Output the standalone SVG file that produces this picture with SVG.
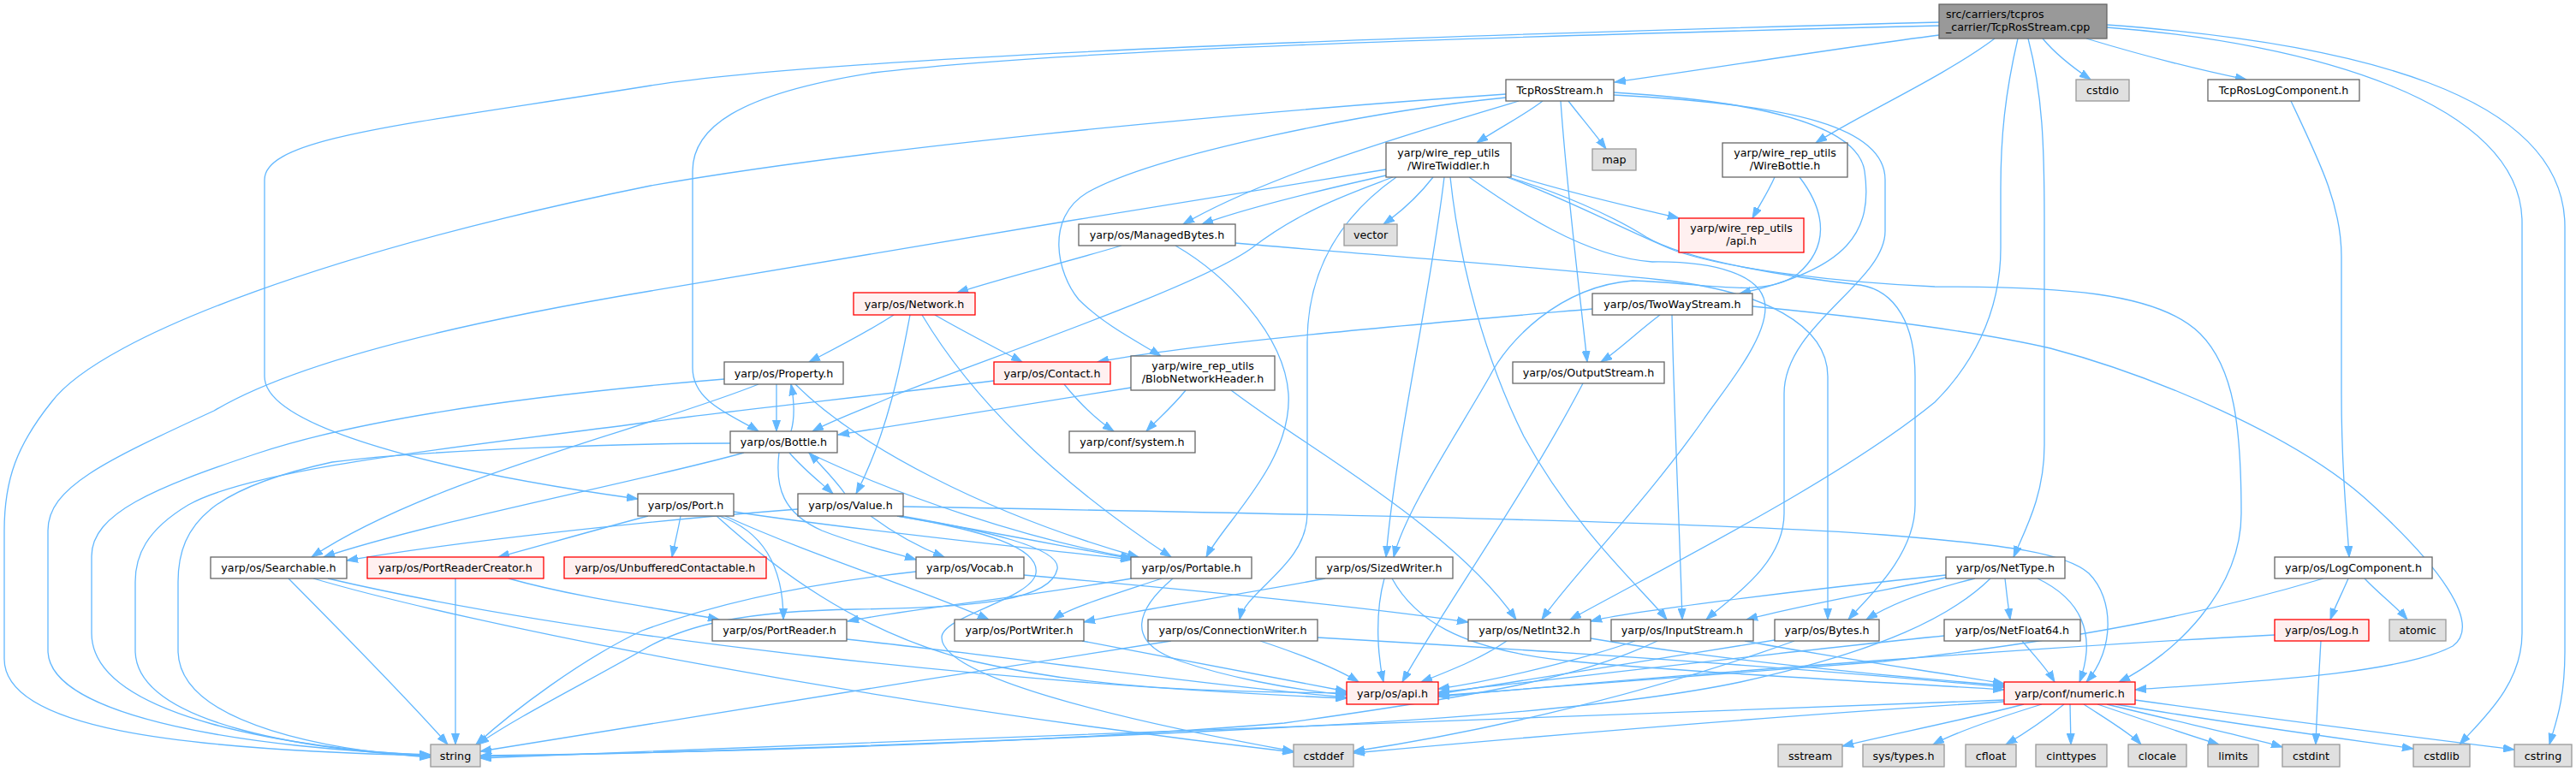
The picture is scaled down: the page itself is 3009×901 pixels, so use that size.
<svg xmlns="http://www.w3.org/2000/svg" width="3009" height="901" viewBox="0 0 3009 901">
<style>
.e path{fill:none;stroke:#63b8ff;stroke-width:1.3;marker-end:url(#a)}
.n rect{fill:#fff;stroke:#666;stroke-width:1.3}
.r rect{fill:#fff0f0;stroke:#f00;stroke-width:1.3}
.g rect{fill:#e0e0e0;stroke:#999;stroke-width:1.3}
.root rect{fill:#999;stroke:#666;stroke-width:1.3}
text{font-family:"DejaVu Sans",sans-serif;font-size:12.7px;fill:#000;text-anchor:middle}
.root text{text-anchor:start}
</style>
<defs>
<marker id="a" markerWidth="14" markerHeight="10" refX="13" refY="5" orient="auto" markerUnits="userSpaceOnUse"><path d="M0,0.5 L13,5 L0,9.5z" fill="#63b8ff" stroke="#63b8ff"/></marker>
</defs>
<rect width="3009" height="901" fill="#fff"/>
<g id="edges" class="e">
<path d="M2265,41 C2140,57 2000,80 1886,96"/>
<path d="M2386,45 C2400,62 2420,78 2442,93"/>
<path d="M2437,45 C2500,64 2570,82 2624,93"/>
<path d="M2330,45 C2270,90 2170,135 2121,167"/>
<path d="M2357,45 C2342,110 2337,160 2337,220 L2337,290 C2337,370 2300,430 2260,470 C2150,560 1950,660 1834,724"/>
<path d="M2369,45 C2386,110 2388,170 2388,260 L2388,520 C2388,580 2365,620 2352,651"/>
<path d="M2461,32 C2700,50 2946,120 2946,260 L2946,740 C2946,800 2900,840 2873,870"/>
<path d="M2461,29 C2750,50 2996,110 2996,265 L2996,760 C2996,820 2985,845 2978,870"/>
<path d="M2265,26 C1800,38 1000,62 760,100 C480,145 309,160 309,210 L309,440 C309,500 520,552 745,583"/>
<path d="M2265,30 C1700,44 1250,58 1020,85 C860,110 809,150 809,200 L809,430 C809,470 855,485 886,504"/>
<path d="M1759,110 C1400,135 1000,175 760,217 C400,290 120,390 60,470 C20,520 5,560 5,620 L5,770 C5,850 200,876 503,883"/>
<path d="M1759,114 C1600,130 1350,180 1270,225 C1220,255 1235,320 1260,350 C1290,380 1330,400 1356,416"/>
<path d="M1774,118 C1650,155 1480,205 1382,262"/>
<path d="M1802,118 C1780,135 1750,150 1725,167"/>
<path d="M1823,118 C1830,220 1845,340 1854,423"/>
<path d="M1832,118 C1845,135 1862,155 1876,174"/>
<path d="M1885,108 C2050,118 2170,145 2178,200 C2188,270 2160,315 2032,343"/>
<path d="M1885,111 C2100,122 2202,150 2202,210 L2202,270 C2202,330 2084,380 2084,460 L2084,600 C2084,660 2020,700 1993,724"/>
<path d="M1619,198 C1350,240 1000,300 760,340 C550,375 350,420 250,480 C120,540 56,570 56,620 L56,760 C56,840 300,875 503,882"/>
<path d="M1619,205 C1530,225 1450,245 1404,262"/>
<path d="M1627,207 C1580,225 1520,245 1462,290 C1400,335 1150,420 1050,460 C1010,478 975,490 949,504"/>
<path d="M1631,207 C1570,250 1527,310 1527,400 L1527,600 C1527,660 1455,690 1448,724"/>
<path d="M1674,207 C1660,225 1640,245 1616,262"/>
<path d="M1687,207 C1670,350 1630,520 1619,651"/>
<path d="M1694,207 C1705,310 1735,420 1780,510 C1840,620 1920,690 1947,724"/>
<path d="M1716,207 C1770,245 1850,300 1930,306 C2000,305 2062,320 2062,360 C2062,400 2010,460 1990,490 C1920,590 1830,680 1801,724"/>
<path d="M1765,208 C1820,225 1880,250 1923,277 C1970,305 2100,325 2173,333 C2215,340 2237,380 2237,440 L2237,590 C2237,650 2180,700 2159,724"/>
<path d="M1765,204 C1830,225 1900,240 1961,255"/>
<path d="M1760,207 C1830,232 1900,270 1957,293 C2020,315 2150,330 2260,335 C2400,335 2520,340 2570,390 C2610,430 2618,500 2618,600 C2618,690 2540,765 2475,797"/>
<path d="M1310,287 C1250,305 1170,325 1118,342"/>
<path d="M1373,287 C1430,320 1500,390 1505,460 C1510,540 1430,610 1409,651"/>
<path d="M1443,284 C1600,298 1800,312 1940,327 C2060,340 2135,380 2135,440 L2135,724"/>
<path d="M1044,368 C1010,390 970,410 945,423"/>
<path d="M1063,368 C1055,410 1040,500 1000,577"/>
<path d="M1077,368 C1120,440 1200,540 1368,651"/>
<path d="M1092,368 C1130,390 1170,410 1194,423"/>
<path d="M907,449 C907,470 907,485 907,504"/>
<path d="M929,449 C1000,520 1150,600 1330,651"/>
<path d="M886,449 C760,500 500,560 364,651"/>
<path d="M846,443 C700,455 450,480 300,530 C180,570 107,600 107,650 L107,740 C107,840 350,875 503,883"/>
<path d="M1243,449 C1260,470 1280,490 1301,504"/>
<path d="M1161,445 C1000,465 850,480 760,493 C560,520 300,545 220,590 C170,620 158,650 158,680 L158,760 C158,850 380,878 503,884"/>
<path d="M1860,361 C1700,375 1400,400 1282,423"/>
<path d="M1385,456 C1370,475 1352,490 1339,504"/>
<path d="M1321,453 C1180,475 1060,495 979,508"/>
<path d="M1438,456 C1470,480 1500,500 1530,520 C1620,580 1720,650 1771,724"/>
<path d="M924,504 C928,490 928,470 924,449"/>
<path d="M922,529 C940,550 960,565 973,577"/>
<path d="M910,529 C905,570 915,600 960,620 C1000,636 1040,645 1070,654"/>
<path d="M944,529 C1050,580 1200,630 1322,652"/>
<path d="M869,529 C760,560 500,610 378,651"/>
<path d="M853,518 C750,518 500,525 388,540 C250,570 208,610 208,680 L208,760 C208,850 400,878 503,885"/>
<path d="M987,577 C975,560 960,545 945,529"/>
<path d="M1017,603 C1040,620 1070,638 1103,651"/>
<path d="M1048,603 C1150,620 1250,640 1322,653"/>
<path d="M1055,592 C1500,600 2000,610 2200,625 C2350,637 2414,647 2440,670 C2470,700 2470,760 2437,797"/>
<path d="M932,595 C800,605 550,630 405,655"/>
<path d="M1048,603 C1150,620 1215,640 1210,670 C1205,700 1100,720 1100,745 C1100,790 1300,840 1511,878"/>
<path d="M1053,603 C1150,620 1240,640 1235,665 C1228,700 1150,710 1000,712 C870,714 800,730 750,760 C680,800 600,840 558,870"/>
<path d="M795,603 C792,620 788,635 785,651"/>
<path d="M757,603 C700,618 630,638 582,651"/>
<path d="M840,603 C890,620 915,660 915,724"/>
<path d="M847,603 C950,650 1080,690 1155,724"/>
<path d="M857,598 C1000,620 1200,640 1322,654"/>
<path d="M837,603 C900,660 1000,740 1138,773 C1300,810 1450,808 1573,810"/>
<path d="M1196,672 C1400,690 1600,710 1715,727"/>
<path d="M1070,668 C960,680 850,700 750,737 C680,770 600,830 556,870"/>
<path d="M1322,676 C1180,700 1060,712 990,726"/>
<path d="M1357,676 C1300,695 1250,710 1230,724"/>
<path d="M1370,676 C1330,710 1310,750 1380,773 C1430,790 1500,805 1573,812"/>
<path d="M989,747 C1200,770 1400,800 1573,815"/>
<path d="M1264,749 C1400,775 1500,795 1573,808"/>
<path d="M1472,749 C1520,765 1560,780 1587,797"/>
<path d="M1368,749 C1100,790 800,840 561,878"/>
<path d="M1539,745 C1800,760 2100,780 2341,803"/>
<path d="M337,676 C400,740 470,810 523,870"/>
<path d="M366,676 C550,730 1000,820 1511,879"/>
<path d="M383,676 C700,750 1200,800 1573,816"/>
<path d="M532,676 L532,870"/>
<path d="M594,676 C680,700 780,712 840,724"/>
<path d="M1617,676 C1605,720 1610,770 1616,797"/>
<path d="M1548,676 C1450,695 1330,712 1266,727"/>
<path d="M1626,676 C1650,720 1700,760 1839,773 C2000,788 2200,797 2341,806"/>
<path d="M2102,207 C2135,250 2135,290 2100,320 C2060,350 1990,330 1907,328 C1820,335 1760,400 1740,440 C1700,510 1640,600 1628,651"/>
<path d="M1849,448 C1780,580 1680,720 1638,797"/>
<path d="M1939,368 C1910,390 1890,410 1870,423"/>
<path d="M1953,368 C1956,500 1962,620 1965,724"/>
<path d="M2047,358 C2150,368 2300,385 2395,407 C2520,440 2680,510 2760,580 C2850,660 2900,730 2865,755 C2800,790 2600,798 2494,806"/>
<path d="M1760,749 C1730,770 1690,785 1660,797"/>
<path d="M1858,746 C2000,770 2200,790 2341,801"/>
<path d="M1910,749 C1850,770 1750,795 1680,805"/>
<path d="M1936,749 C1850,790 1750,810 1500,845 C1200,870 800,880 561,883"/>
<path d="M2038,749 C2150,770 2280,788 2341,799"/>
<path d="M2073,748 C1900,775 1750,800 1680,811"/>
<path d="M2096,749 C1900,820 1700,860 1581,878"/>
<path d="M2342,676 C2344,695 2346,710 2348,724"/>
<path d="M2380,676 C2430,700 2450,740 2429,797"/>
<path d="M2273,672 C2100,690 1900,715 1858,726"/>
<path d="M2273,675 C2200,690 2100,708 2040,724"/>
<path d="M2307,676 C2250,690 2210,705 2180,724"/>
<path d="M2325,676 C2280,720 2200,760 2033,797 C1900,825 1700,840 1500,850 C1200,866 800,880 561,884"/>
<path d="M2362,749 C2375,765 2390,780 2400,797"/>
<path d="M2271,743 C2100,760 1850,790 1680,809"/>
<path d="M2743,676 C2735,695 2727,710 2722,724"/>
<path d="M2762,676 C2780,695 2800,710 2812,724"/>
<path d="M2714,676 C2600,710 2450,745 2200,773 C2000,790 1800,805 1680,813"/>
<path d="M2676,118 C2710,190 2735,240 2735,300 L2735,460 C2735,560 2742,610 2744,651"/>
<path d="M2711,749 C2708,800 2706,840 2705,870"/>
<path d="M2657,742 C2400,755 2000,785 1680,814"/>
<path d="M2341,818 C2000,830 1200,860 561,886"/>
<path d="M2341,820 C2100,835 1800,860 1581,880"/>
<path d="M2364,823 C2300,840 2200,860 2152,872"/>
<path d="M2385,823 C2330,840 2280,858 2258,870"/>
<path d="M2411,823 C2390,840 2360,860 2343,870"/>
<path d="M2418,823 L2419,870"/>
<path d="M2434,823 C2460,840 2490,858 2501,870"/>
<path d="M2450,823 C2500,840 2560,860 2592,870"/>
<path d="M2461,823 C2550,845 2630,862 2666,873"/>
<path d="M2471,823 C2600,845 2750,865 2819,875"/>
<path d="M2494,818 C2650,840 2850,865 2937,876"/>
<path d="M2073,207 C2065,225 2055,240 2047,255"/>
</g>
<g id="root" class="root"><rect x="2265" y="5" width="196" height="40"/><text x="2273" y="21">src/carriers/tcpros</text><text x="2273" y="36">_carrier/TcpRosStream.cpp</text></g>
<g id="TcpRosStream_h" class="n"><rect x="1759" y="93" width="126" height="25"/><text x="1822" y="110">TcpRosStream.h</text></g>
<g id="cstdio" class="g"><rect x="2425" y="93" width="62" height="25"/><text x="2456" y="110">cstdio</text></g>
<g id="TcpRosLogComponent_h" class="n"><rect x="2579" y="93" width="177" height="25"/><text x="2667.5" y="110">TcpRosLogComponent.h</text></g>
<g id="WireTwiddler_h" class="n"><rect x="1619" y="167" width="146" height="40"/><text x="1692" y="183">yarp/wire_rep_utils</text><text x="1692" y="197.5">/WireTwiddler.h</text></g>
<g id="map" class="g"><rect x="1860" y="174" width="51" height="25"/><text x="1885.5" y="191">map</text></g>
<g id="WireBottle_h" class="n"><rect x="2012" y="167" width="146" height="40"/><text x="2085" y="183">yarp/wire_rep_utils</text><text x="2085" y="197.5">/WireBottle.h</text></g>
<g id="vector" class="g"><rect x="1570" y="262" width="62" height="25"/><text x="1601" y="279">vector</text></g>
<g id="wire_api_h" class="r"><rect x="1961" y="255" width="146" height="40"/><text x="2034" y="271">yarp/wire_rep_utils</text><text x="2034" y="285.5">/api.h</text></g>
<g id="ManagedBytes_h" class="n"><rect x="1260" y="262" width="183" height="25"/><text x="1351.5" y="279">yarp/os/ManagedBytes.h</text></g>
<g id="TwoWayStream_h" class="n"><rect x="1860" y="343" width="187" height="25"/><text x="1953.5" y="360">yarp/os/TwoWayStream.h</text></g>
<g id="Network_h" class="r"><rect x="997" y="342" width="142" height="26"/><text x="1068" y="360">yarp/os/Network.h</text></g>
<g id="OutputStream_h" class="n"><rect x="1767" y="423" width="177" height="25"/><text x="1855.5" y="440">yarp/os/OutputStream.h</text></g>
<g id="Property_h" class="n"><rect x="846" y="423" width="139" height="26"/><text x="915.5" y="440.5">yarp/os/Property.h</text></g>
<g id="Contact_h" class="r"><rect x="1161" y="423" width="136" height="26"/><text x="1229" y="440.5">yarp/os/Contact.h</text></g>
<g id="BlobNetworkHeader_h" class="n"><rect x="1321" y="416" width="168" height="40"/><text x="1405" y="432">yarp/wire_rep_utils</text><text x="1405" y="446.5">/BlobNetworkHeader.h</text></g>
<g id="Bottle_h" class="n"><rect x="853" y="504" width="125" height="25"/><text x="915.5" y="521">yarp/os/Bottle.h</text></g>
<g id="system_h" class="n"><rect x="1249" y="504" width="147" height="25"/><text x="1322.5" y="521">yarp/conf/system.h</text></g>
<g id="Port_h" class="n"><rect x="745" y="577" width="112" height="26"/><text x="801" y="594.5">yarp/os/Port.h</text></g>
<g id="Value_h" class="n"><rect x="932" y="577" width="123" height="26"/><text x="993.5" y="594.5">yarp/os/Value.h</text></g>
<g id="UnbufferedContactable_h" class="r"><rect x="659" y="651" width="236" height="25"/><text x="777" y="668">yarp/os/UnbufferedContactable.h</text></g>
<g id="Searchable_h" class="n"><rect x="246" y="651" width="159" height="25"/><text x="325.5" y="668">yarp/os/Searchable.h</text></g>
<g id="PortReaderCreator_h" class="r"><rect x="429" y="651" width="206" height="25"/><text x="532" y="668">yarp/os/PortReaderCreator.h</text></g>
<g id="Vocab_h" class="n"><rect x="1070" y="651" width="126" height="25"/><text x="1133" y="668">yarp/os/Vocab.h</text></g>
<g id="Portable_h" class="n"><rect x="1321" y="651" width="141" height="25"/><text x="1391.5" y="668">yarp/os/Portable.h</text></g>
<g id="SizedWriter_h" class="n"><rect x="1537" y="651" width="160" height="25"/><text x="1617" y="668">yarp/os/SizedWriter.h</text></g>
<g id="NetType_h" class="n"><rect x="2273" y="651" width="139" height="25"/><text x="2342.5" y="668">yarp/os/NetType.h</text></g>
<g id="LogComponent_h" class="n"><rect x="2657" y="651" width="184" height="25"/><text x="2749" y="668">yarp/os/LogComponent.h</text></g>
<g id="PortReader_h" class="n"><rect x="832" y="724" width="157" height="25"/><text x="910.5" y="741">yarp/os/PortReader.h</text></g>
<g id="PortWriter_h" class="n"><rect x="1115" y="724" width="151" height="25"/><text x="1190.5" y="741">yarp/os/PortWriter.h</text></g>
<g id="ConnectionWriter_h" class="n"><rect x="1341" y="724" width="198" height="25"/><text x="1440" y="741">yarp/os/ConnectionWriter.h</text></g>
<g id="NetInt32_h" class="n"><rect x="1715" y="724" width="143" height="25"/><text x="1786.5" y="741">yarp/os/NetInt32.h</text></g>
<g id="InputStream_h" class="n"><rect x="1882" y="724" width="166" height="25"/><text x="1965" y="741">yarp/os/InputStream.h</text></g>
<g id="Bytes_h" class="n"><rect x="2073" y="724" width="122" height="25"/><text x="2134" y="741">yarp/os/Bytes.h</text></g>
<g id="NetFloat64_h" class="n"><rect x="2271" y="724" width="159" height="25"/><text x="2350.5" y="741">yarp/os/NetFloat64.h</text></g>
<g id="Log_h" class="r"><rect x="2657" y="724" width="110" height="25"/><text x="2712" y="741">yarp/os/Log.h</text></g>
<g id="atomic" class="g"><rect x="2791" y="724" width="66" height="25"/><text x="2824" y="741">atomic</text></g>
<g id="os_api_h" class="r"><rect x="1573" y="797" width="107" height="26"/><text x="1626.5" y="814.5">yarp/os/api.h</text></g>
<g id="numeric_h" class="r"><rect x="2341" y="797" width="153" height="26"/><text x="2417.5" y="814.5">yarp/conf/numeric.h</text></g>
<g id="string" class="g"><rect x="503" y="870" width="58" height="26"/><text x="532" y="887.5">string</text></g>
<g id="cstddef" class="g"><rect x="1511" y="870" width="70" height="26"/><text x="1546" y="887.5">cstddef</text></g>
<g id="sstream" class="g"><rect x="2077" y="870" width="75" height="26"/><text x="2114.5" y="887.5">sstream</text></g>
<g id="sys_types_h" class="g"><rect x="2176" y="870" width="95" height="26"/><text x="2223.5" y="887.5">sys/types.h</text></g>
<g id="cfloat" class="g"><rect x="2296" y="870" width="59" height="26"/><text x="2325.5" y="887.5">cfloat</text></g>
<g id="cinttypes" class="g"><rect x="2378" y="870" width="83" height="26"/><text x="2419.5" y="887.5">cinttypes</text></g>
<g id="clocale" class="g"><rect x="2486" y="870" width="68" height="26"/><text x="2520" y="887.5">clocale</text></g>
<g id="limits" class="g"><rect x="2579" y="870" width="59" height="26"/><text x="2608.5" y="887.5">limits</text></g>
<g id="cstdint" class="g"><rect x="2666" y="870" width="67" height="26"/><text x="2699.5" y="887.5">cstdint</text></g>
<g id="cstdlib" class="g"><rect x="2819" y="870" width="66" height="26"/><text x="2852" y="887.5">cstdlib</text></g>
<g id="cstring" class="g"><rect x="2937" y="870" width="67" height="26"/><text x="2970.5" y="887.5">cstring</text></g>
</svg>
